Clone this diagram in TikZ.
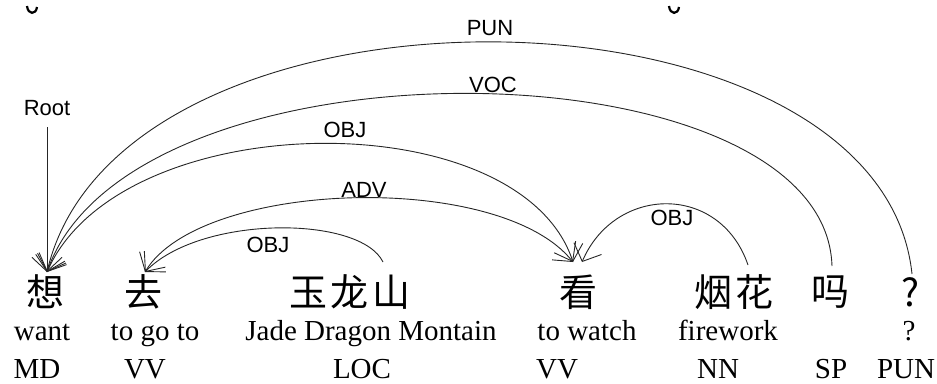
\documentclass[tikz,border=0pt]{standalone}
\usepackage{fontspec}
\setmainfont{Liberation Serif}
\newfontfamily\cjkfont{Noto Sans CJK SC}
\newfontfamily\labfont{Liberation Sans}
\usetikzlibrary{arrows.meta}
\begin{document}
\begin{tikzpicture}[x=1pt,y=-1pt,
  word/.style={font=\cjkfont\fontsize{38}{40}\selectfont, inner sep=0pt},
  gloss/.style={font=\fontsize{29}{32}\selectfont, anchor=base, inner sep=0pt},
  tagw/.style={font=\fontsize{29}{32}\selectfont, anchor=base, inner sep=0pt},
  rel/.style={font=\labfont\fontsize{22}{24}\selectfont, inner sep=0pt},
  barb/.tip={Straight Barb[length=14pt,width=30pt]},
  dep/.style={draw=black!85, line width=0.9pt, -barb},
  depboth/.style={draw=black!85, line width=0.9pt, barb-barb},
]
\useasboundingbox (0,0) rectangle (937,383);
% fragments of a cut-off line above
\draw[line width=2.2pt] (27,6) .. controls (28,15) and (36,15) .. (37,7);
\draw[line width=2.2pt] (669,6) .. controls (670,15) and (678,15) .. (679,7);
% words
\node[word] (w1) at (45,292) {想};
\node[word] (w2) at (143,292) {去};
\node[word] (w3) at (350,292) {玉\hspace{4pt}龙\hspace{4pt}山};
\node[word] (w4) at (578,292) {看};
\node[word] (w5) at (734,292) {烟\hspace{4pt}花};
\node[word] (w6) at (830,292) {吗};
\node[word] (w7) at (910,292) {?};
% glosses
\node[gloss] (g1) at (42,340) {want};
\node[gloss] (g2) at (155,340) {to go to};
\node[gloss] (g3) at (371,340) {Jade Dragon Montain};
\node[gloss] (g4) at (587,340) {to watch};
\node[gloss] (g5) at (728,340) {firework};
\node[gloss] (g7) at (909,340) {?};
% tags
\node[tagw] (t1) at (37,378) {MD};
\node[tagw] (t2) at (145,378) {VV};
\node[tagw] (t3) at (362,378) {LOC};
\node[tagw] (t4) at (557,378) {VV};
\node[tagw] (t5) at (718,378) {NN};
\node[tagw] (t6) at (831,378) {SP};
\node[tagw] (t7) at (906,378) {PUN};
% relation labels
\node[rel] (lroot) at (47,108) {Root};
\node[rel] (lpun) at (490,28) {PUN};
\node[rel] (lvoc) at (493,85) {VOC};
\node[rel] (lobj1) at (345,130) {OBJ};
\node[rel] (ladv) at (364,190) {ADV};
\node[rel] (lobj2) at (268,245) {OBJ};
\node[rel] (lobj3) at (672,218) {OBJ};
% connector end points
\coordinate (h1) at (47,272);
\coordinate (h2) at (145,272);
\coordinate (s3) at (383,262);
\coordinate (h4a) at (573,262);
\coordinate (h4b) at (582,262);
\coordinate (s5) at (748,265);
\coordinate (s6) at (832,266);
\coordinate (s7) at (912,274);
\coordinate (r0) at (47,127);
% connectors
\draw[dep] (r0) -- (h1);
\draw[dep] (s7) .. controls (880,-30) and (120,-40) .. (h1);
\draw[dep] (s6) .. controls (825,40) and (130,30) .. (h1);
\draw[depboth] (h4a) .. controls (520,100) and (120,105) .. (h1);
\draw[depboth] (h2) .. controls (200,180) and (500,170) .. (h4a);
\draw[dep] (s3) .. controls (360,215) and (200,215) .. (h2);
\draw[dep] (s5) .. controls (720,183) and (615,185) .. (h4b);
\end{tikzpicture}
\end{document}
